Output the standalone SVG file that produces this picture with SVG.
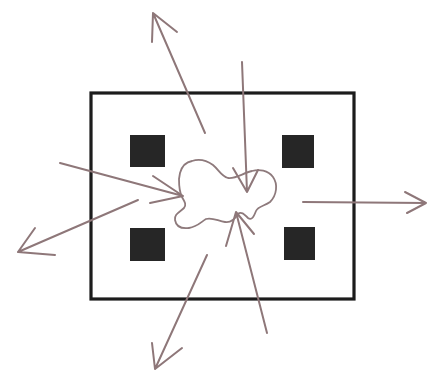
<svg xmlns="http://www.w3.org/2000/svg" width="429" height="376" viewBox="0 0 429 376">
<style>
.box{fill:#fff;stroke:#1c1c1c;stroke-width:3.2}
.sq{fill:#262626;stroke:none}
.blob{fill:none;stroke:#8e7a7c;stroke-width:1.8;stroke-linejoin:round}
.arr{fill:none;stroke:#8e7779;stroke-width:2;stroke-linecap:round;stroke-linejoin:round}
</style>
<rect width="429" height="376" fill="#fff"/>
<g id="room"><rect class="box" x="91" y="93" width="263" height="206"/></g>
<g id="block-tl"><rect class="sq" x="130" y="135" width="35" height="32"/></g>
<g id="block-tr"><rect class="sq" x="282" y="135" width="32" height="33"/></g>
<g id="block-bl"><rect class="sq" x="130" y="228" width="35" height="33"/></g>
<g id="block-br"><rect class="sq" x="284" y="227" width="31" height="33"/></g>
<g id="blob">
<path class="blob" d="M180,173 C182,166 186,162 192,161 C198,159 206,160 213,165 C219,170 221,176 228,178 C236,179 243,173 252,171 C259,169 268,170 273,177 C278,184 277,195 270,202 C265,206 258,206 256,211 C254,216 252,221 248,218 C244,214 241,211 238,214 C235,219 231,223 225,222 C218,221 212,217 206,219 C201,222 197,227 189,228 C181,229 176,226 175,220 C174,214 180,212 184,208 C187,204 184,201 182,197 C179,191 179,185 179,179 Z"/>
</g>
<g id="connectors">
<path class="arr" d="M205,133 L153,13 M152,42 L153,13 L177,32"/>
<path class="arr" d="M242,62 L247,192 M233,168 L247,192 L258,170"/>
<path class="arr" d="M60,163 L183,196 M153,176 L183,196 L150,203"/>
<path class="arr" d="M138,200 L18,252 M35,228 L18,252 L55,255"/>
<path class="arr" d="M207,255 L155,369 M152,343 L155,369 L182,348"/>
<path class="arr" d="M267,333 L236,212 M226,246 L236,212 L254,234"/>
<path class="arr" d="M303,202 L426,203 M405,192 L426,203 L407,213"/>
</g>
</svg>
